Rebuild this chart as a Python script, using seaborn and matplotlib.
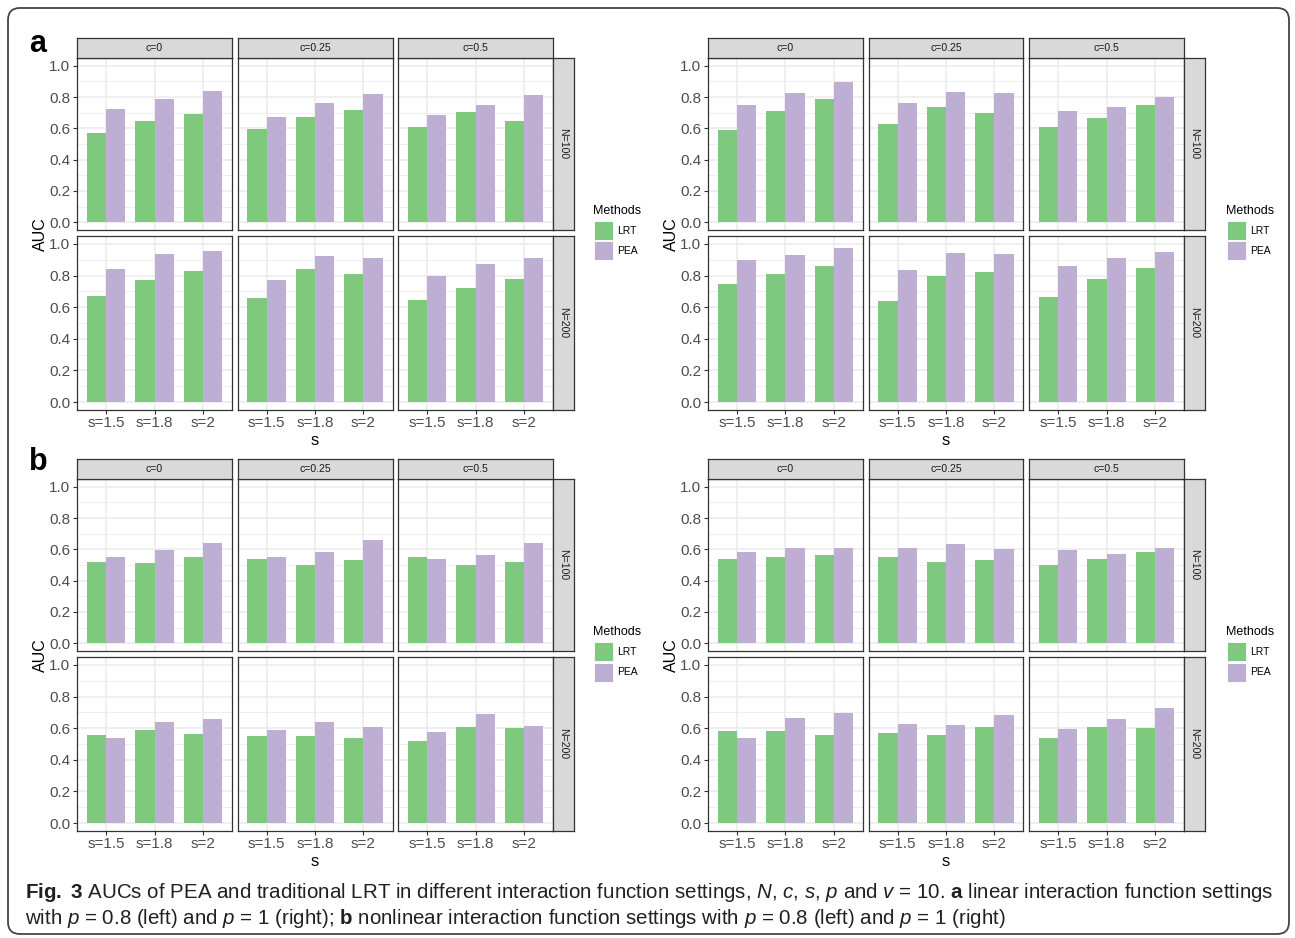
import numpy as np
import pandas as pd
import matplotlib
matplotlib.use("Agg")
import matplotlib.pyplot as plt
from matplotlib.patches import Rectangle, FancyBboxPatch
from matplotlib.ticker import FormatStrFormatter
from matplotlib import font_manager
import seaborn as sns

# ---------------------------------------------------------------- data
s_levels = ["s=1.5", "s=1.8", "s=2"]
c_levels = ["c=0", "c=0.25", "c=0.5"]
n_levels = ["N=100", "N=200"]
methods = ["LRT", "PEA"]
method_colors = ["#7FC97F", "#BEAED4"]

# AUC values, ordered c=0 | c=0.25 | c=0.5, each block s=1.5, s=1.8, s=2
# (a) linear interaction function, p = 0.8
lin_p08_n100_lrt = [0.570, 0.646, 0.691, 0.595, 0.672, 0.716, 0.608, 0.703, 0.646]
lin_p08_n100_pea = [0.722, 0.786, 0.837, 0.672, 0.761, 0.818, 0.684, 0.748, 0.811]
lin_p08_n200_lrt = [0.673, 0.769, 0.826, 0.660, 0.839, 0.807, 0.648, 0.724, 0.775]
lin_p08_n200_pea = [0.839, 0.934, 0.953, 0.769, 0.921, 0.909, 0.800, 0.870, 0.909]
# (a) linear interaction function, p = 1
lin_p1_n100_lrt = [0.589, 0.710, 0.786, 0.627, 0.735, 0.697, 0.608, 0.665, 0.748]
lin_p1_n100_pea = [0.748, 0.824, 0.894, 0.761, 0.831, 0.824, 0.710, 0.735, 0.799]
lin_p1_n200_lrt = [0.749, 0.807, 0.858, 0.641, 0.800, 0.820, 0.667, 0.781, 0.845]
lin_p1_n200_pea = [0.896, 0.928, 0.972, 0.832, 0.941, 0.934, 0.858, 0.909, 0.947]
# (b) nonlinear interaction function, p = 0.8
nonlin_p08_n100_lrt = [0.522, 0.510, 0.554, 0.541, 0.503, 0.529, 0.548, 0.497, 0.522]
nonlin_p08_n100_pea = [0.554, 0.599, 0.643, 0.548, 0.586, 0.662, 0.541, 0.567, 0.643]
nonlin_p08_n200_lrt = [0.554, 0.586, 0.561, 0.548, 0.548, 0.535, 0.522, 0.605, 0.599]
nonlin_p08_n200_pea = [0.535, 0.637, 0.656, 0.586, 0.637, 0.605, 0.573, 0.688, 0.611]
# (b) nonlinear interaction function, p = 1
nonlin_p1_n100_lrt = [0.541, 0.554, 0.567, 0.548, 0.516, 0.529, 0.497, 0.541, 0.586]
nonlin_p1_n100_pea = [0.580, 0.611, 0.611, 0.611, 0.637, 0.605, 0.599, 0.573, 0.611]
nonlin_p1_n200_lrt = [0.580, 0.580, 0.554, 0.567, 0.554, 0.605, 0.535, 0.605, 0.599]
nonlin_p1_n200_pea = [0.541, 0.662, 0.694, 0.624, 0.618, 0.682, 0.592, 0.656, 0.726]


def make_frame(n100_lrt, n100_pea, n200_lrt, n200_pea):
    series = {("N=100", "LRT"): n100_lrt, ("N=100", "PEA"): n100_pea,
              ("N=200", "LRT"): n200_lrt, ("N=200", "PEA"): n200_pea}
    rows = []
    for (n, m), vals in series.items():
        for i, c in enumerate(c_levels):
            for j, s in enumerate(s_levels):
                rows.append({"N": n, "c": c, "s": s, "Methods": m, "AUC": vals[3 * i + j]})
    return pd.DataFrame(rows)


frames = {
    "lin_p08": make_frame(lin_p08_n100_lrt, lin_p08_n100_pea, lin_p08_n200_lrt, lin_p08_n200_pea),
    "lin_p1": make_frame(lin_p1_n100_lrt, lin_p1_n100_pea, lin_p1_n200_lrt, lin_p1_n200_pea),
    "nonlin_p08": make_frame(nonlin_p08_n100_lrt, nonlin_p08_n100_pea, nonlin_p08_n200_lrt, nonlin_p08_n200_pea),
    "nonlin_p1": make_frame(nonlin_p1_n100_lrt, nonlin_p1_n100_pea, nonlin_p1_n200_lrt, nonlin_p1_n200_pea),
}

# ---------------------------------------------------------------- style
plt.rcParams["font.family"] = ["Liberation Sans", "DejaVu Sans"]
installed = {f.name for f in font_manager.fontManager.ttflist}
cap_font = "Liberation Sans Narrow" if "Liberation Sans Narrow" in installed else "Liberation Sans"
plt.rcParams["mathtext.fontset"] = "custom"
plt.rcParams["mathtext.rm"] = cap_font
plt.rcParams["mathtext.it"] = cap_font + ":italic"
plt.rcParams["mathtext.bf"] = cap_font + ":bold"

W, H = 1295, 938
fig = plt.figure(figsize=(W / 100, H / 100), dpi=100)
palette = dict(zip(methods, method_colors))

GRID = "#EBEBEB"
DARK = "#333333"
STRIP = "#D9D9D9"
TICK_TXT = "#4D4D4D"


def px_rect(x0, y0, x1, y1):
    return [x0 / W, 1 - y1 / H, (x1 - x0) / W, (y1 - y0) / H]


def style_strip(ax, label, rotation):
    ax.set_facecolor(STRIP)
    ax.set_xticks([])
    ax.set_yticks([])
    for sp in ax.spines.values():
        sp.set_color(DARK)
        sp.set_linewidth(0.9)
    ax.text(0.5, 0.5, label, transform=ax.transAxes, ha="center", va="center",
            rotation=rotation, fontsize=7.6, color="#1A1A1A")


def draw_group(df, x0, top):
    col_w, col_step = 155, 160.5
    row_spans = [(top + 20, top + 192), (top + 198, top + 372)]
    for r, n in enumerate(n_levels):
        ya, yb = row_spans[r]
        for ci, c in enumerate(c_levels):
            xa = x0 + ci * col_step
            xb = xa + col_w
            ax = fig.add_axes(px_rect(xa, ya, xb, yb))
            sub = df[(df["N"] == n) & (df["c"] == c)]
            sns.barplot(data=sub, x="s", y="AUC", hue="Methods", order=s_levels,
                        hue_order=methods, palette=palette, width=0.8, saturation=1,
                        errorbar=None, legend=False, linewidth=0, ax=ax)
            ax.set_xlim(-0.6, 2.6)
            ax.set_ylim(-0.05, 1.05)
            ax.set_yticks(np.arange(0, 1.01, 0.2))
            ax.set_yticks(np.arange(0.1, 1.0, 0.2), minor=True)
            ax.yaxis.set_major_formatter(FormatStrFormatter("%.1f"))
            ax.set_facecolor("white")
            ax.grid(True, which="major", color=GRID, lw=1.1)
            ax.grid(True, which="minor", axis="y", color=GRID, lw=0.55)
            ax.set_axisbelow(True)
            ax.tick_params(which="minor", length=0)
            for sp in ax.spines.values():
                sp.set_color(DARK)
                sp.set_linewidth(0.9)
            ax.set_xlabel("")
            ax.set_ylabel("")
            if ci == 0:
                ax.tick_params(axis="y", length=3, width=0.8, color=DARK,
                               labelsize=11, labelcolor=TICK_TXT, pad=2)
            else:
                ax.tick_params(axis="y", length=0, labelleft=False)
            if r == 1:
                ax.tick_params(axis="x", length=3, width=0.8, color=DARK,
                               labelsize=11, labelcolor=TICK_TXT, pad=1.5)
            else:
                ax.tick_params(axis="x", length=0, labelbottom=False)
            if r == 0:
                sax = fig.add_axes(px_rect(xa, top, xb, top + 20))
                style_strip(sax, c, 0)
        xs = x0 + 2 * col_step + col_w
        sax = fig.add_axes(px_rect(xs, ya, xs + 21, yb))
        style_strip(sax, n, -90)

    # shared axis titles
    fig.text((x0 - 37) / W, 1 - (top + 196) / H, "AUC", rotation=90,
             ha="center", va="center", fontsize=11.5)
    mid_x = x0 + (2 * col_step + col_w) / 2
    fig.text(mid_x / W, 1 - (top + 407) / H, "s", ha="center", va="baseline", fontsize=12)


def draw_legend(x, y_title):
    fig.text(x / W, 1 - y_title / H, "Methods", ha="left", va="center", fontsize=9)
    for k, (m, col) in enumerate(zip(methods, method_colors)):
        ky = y_title + 10 + k * 20.5
        fig.add_artist(Rectangle(((x + 1) / W, 1 - (ky + 19) / H), 19 / W, 19 / H,
                                 transform=fig.transFigure, facecolor=col,
                                 edgecolor="white", lw=0.6))
        fig.text((x + 24) / W, 1 - (ky + 9.5) / H, m, ha="left", va="center", fontsize=7.5)


draw_group(frames["lin_p08"], 77, 38)
draw_group(frames["lin_p1"], 708, 38)
draw_group(frames["nonlin_p08"], 77, 459)
draw_group(frames["nonlin_p1"], 708, 459)

draw_legend(593, 211)
draw_legend(1226, 211)
draw_legend(593, 632)
draw_legend(1226, 632)

fig.text(29 / W, 1 - 52 / H, "a", fontsize=22, fontweight="bold", ha="left", va="baseline")
fig.text(29 / W, 1 - 470 / H, "b", fontsize=22, fontweight="bold", ha="left", va="baseline")

# outer frame
fig.add_artist(FancyBboxPatch((8, H - 934), 1281, 926,
                              boxstyle="round,pad=0,rounding_size=12",
                              transform=None, facecolor="none", edgecolor="#444444", lw=1.3))

# caption, sized so the first line fills the text block
line1 = (r"$\mathbf{Fig.\ 3}$ AUCs of PEA and traditional LRT in different interaction function "
         r"settings, $N$, $c$, $s$, $p$ and $v$ = 10. $\mathbf{a}$ linear interaction function settings")
line2 = (r"with $p$ = 0.8 (left) and $p$ = 1 (right); $\mathbf{b}$ nonlinear interaction function "
         r"settings with $p$ = 0.8 (left) and $p$ = 1 (right)")
cap_kw = dict(ha="left", va="center", color="#231F20", family=cap_font)
t1 = fig.text(25 / W, 1 - 892 / H, line1, fontsize=12, **cap_kw)
renderer = fig.canvas.get_renderer()
width = t1.get_window_extent(renderer).width
size = 12 * 1248 / width
t1.set_fontsize(size)
fig.text(25 / W, 1 - 918 / H, line2, fontsize=size, **cap_kw)

fig.savefig("out.png", dpi=100)
